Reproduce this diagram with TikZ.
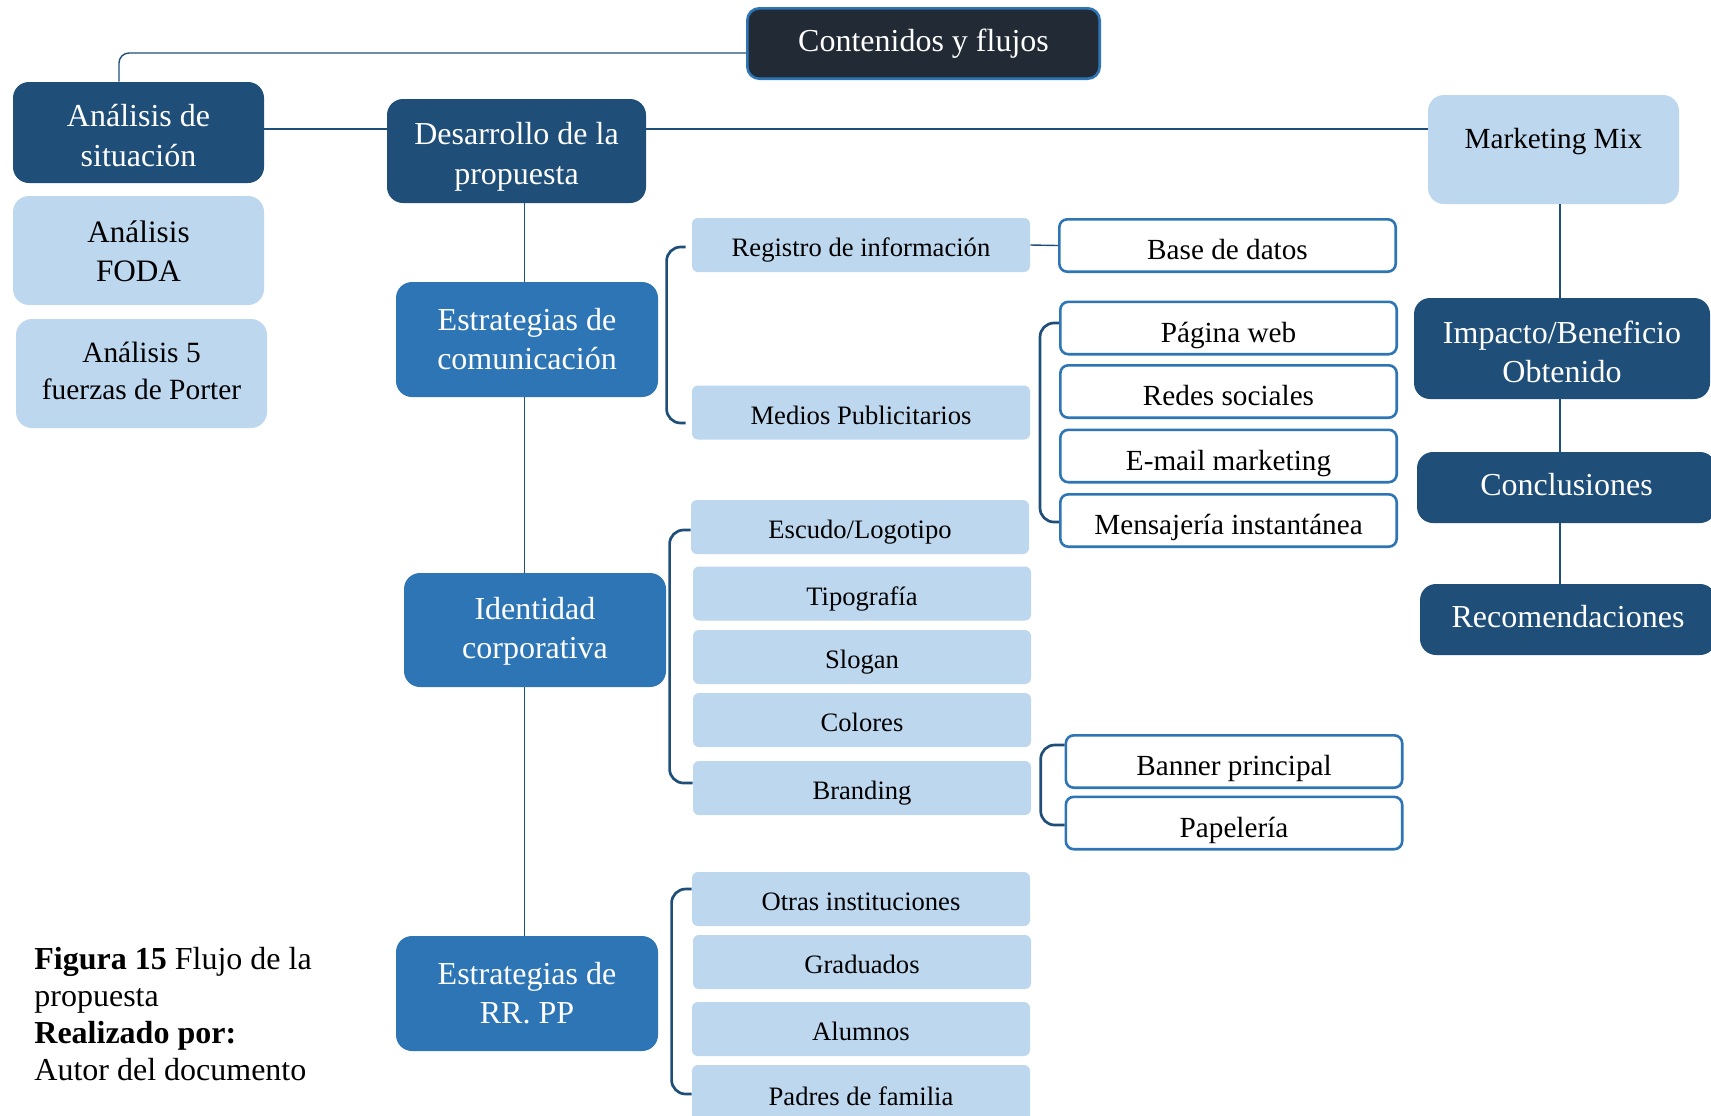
\documentclass[tikz,border=0pt]{standalone}
\usepackage{fontspec}
\setmainfont{Liberation Serif}
\definecolor{navy}{HTML}{1F4E79}
\definecolor{midblue}{HTML}{2E75B6}
\definecolor{lightblue}{HTML}{BDD7EE}
\definecolor{contfill}{HTML}{222A35}
\newcommand\vshift[2]{\raisebox{#1}[\height][\depth]{\begin{tabular}{@{}c@{}}#2\end{tabular}}}
\tikzset{
  boxbase/.style={inner sep=0pt, align=center, font=\fontsize{16pt}{20pt}\selectfont},
  navybox/.style={boxbase, fill=navy, text=white, rounded corners=8pt},
  midbox/.style={boxbase, fill=midblue, text=white, rounded corners=8pt},
  lightbox/.style={boxbase, fill=lightblue, text=black, rounded corners=8pt},
  subbox/.style={inner sep=0pt, fill=lightblue, rounded corners=3pt,
    font=\fontsize{13.3pt}{16pt}\selectfont, minimum width=169pt, minimum height=27pt,
    text height=14.2pt, text depth=2.66pt},
  wbox/.style={inner sep=0pt, draw=midblue, line width=1.3pt, fill=white, rounded corners=4pt,
    font=\fontsize{14.6pt}{17pt}\selectfont, minimum width=168.2pt, minimum height=26.2pt,
    text height=17.2pt, text depth=2.9pt},
  conn/.style={draw=navy, line width=0.7pt},
  brk/.style={draw=navy, line width=1.35pt, rounded corners=7pt},
  captext/.style={inner sep=0pt, anchor=base west, font=\fontsize{16pt}{18.5pt}\selectfont}
}
\begin{document}
\begin{tikzpicture}[x=0.5pt,y=-0.5pt]
\useasboundingbox (0,0) rectangle (1711,1115);
% main boxes
\node[boxbase, draw=midblue, line width=1.3pt, fill=contfill, text=white, rounded corners=6pt,
  minimum width=176.2pt, minimum height=35.2pt] (cont) at (923.5,43.5) {Contenidos y flujos};
\node[navybox, minimum width=125.5pt, minimum height=50.5pt] (sit) at (138.5,132.5) {\vshift{-3.2pt}{Análisis de\\situación}};
\node[lightbox, font=\fontsize{15.6pt}{19.5pt}\selectfont, minimum width=125.5pt, minimum height=54.5pt] (foda) at (138.5,250.5) {\vshift{-1.9pt}{Análisis\\FODA}};
\node[lightbox, font=\fontsize{14.7pt}{18.5pt}\selectfont, minimum width=125.5pt, minimum height=54.5pt] (porter) at (141.5,373.5) {\vshift{0.2pt}{Análisis 5\\fuerzas de Porter}};
\node[navybox, minimum width=129.5pt, minimum height=52pt] (des) at (516.5,151) {\vshift{-2.5pt}{Desarrollo de la\\propuesta}};
\node[midbox, font=\fontsize{16pt}{19.5pt}\selectfont, minimum width=131pt, minimum height=57.5pt] (com) at (527,339.5) {\vshift{-1.1pt}{Estrategias de\\comunicación}};
\node[midbox, font=\fontsize{16pt}{19.5pt}\selectfont, minimum width=131pt, minimum height=57pt] (ident) at (535,630) {\vshift{-0.8pt}{Identidad\\corporativa}};
\node[midbox, font=\fontsize{16pt}{19.5pt}\selectfont, minimum width=131pt, minimum height=57.5pt] (rrpp) at (527,993.5) {\vshift{-1.1pt}{Estrategias de\\RR. PP}};
\node[lightbox, font=\fontsize{14.6pt}{18pt}\selectfont, minimum width=125.5pt, minimum height=54.5pt,
  text height=10pt, text depth=11.4pt] (mm) at (1553.5,149.5) {Marketing Mix};
\node[navybox, font=\fontsize{16pt}{19.5pt}\selectfont, minimum width=148pt, minimum height=50.5pt] (imp) at (1562,348.5) {\vshift{-3.2pt}{Impacto/Beneficio\\Obtenido}};
\node[navybox, minimum width=149.5pt, minimum height=35.5pt] (conc) at (1566.5,487.5) {\vshift{0pt}{Conclusiones}};
\node[navybox, minimum width=148pt, minimum height=35.5pt] (rec) at (1568,619.5) {\vshift{0pt}{Recomendaciones}};
% sub items
\node[subbox] (reg) at (861,245) {Registro de información};
\node[subbox] (med) at (861,412.5) {Medios Publicitarios};
\node[subbox] (esc) at (860,527) {Escudo/Logotipo};
\node[subbox] (tip) at (862,593.5) {Tipografía};
\node[subbox] (slo) at (862,657) {Slogan};
\node[subbox] (col) at (862,720) {Colores};
\node[subbox] (bra) at (862,788) {Branding};
\node[subbox] (otr) at (861,899) {Otras instituciones};
\node[subbox] (gra) at (862,962) {Graduados};
\node[subbox] (alu) at (861,1029) {Alumnos};
\node[subbox, minimum height=29pt] (pad) at (861,1094) {Padres de familia};
% white boxes
\node[wbox] (base) at (1227.5,245.5) {Base de datos};
\node[wbox] (web) at (1228.5,328) {Página web};
\node[wbox] (red) at (1228.5,391.5) {Redes sociales};
\node[wbox] (ema) at (1228.5,456) {E-mail marketing};
\node[wbox] (men) at (1228.5,520.5) {Mensajería instantánea};
\node[wbox] (ban) at (1234,761.5) {Banner principal};
\node[wbox] (pap) at (1234,823) {Papelería};
% connectors
\coordinate (hl) at (0,129);
\coordinate (vl) at (524.5,0);
\coordinate (vr) at (1560,0);
\draw[conn, rounded corners=5pt] ([xshift=-9.75pt]sit.north) |- ([yshift=-4.75pt]cont.west);
\draw[conn] (sit.east |- hl) -- (des.west |- hl);
\draw[conn] (des.east |- hl) -- (mm.west |- hl);
\draw[conn] (des.south -| vl) -- (com.north -| vl);
\draw[conn] (com.south -| vl) -- (ident.north -| vl);
\draw[conn] (ident.south -| vl) -- (rrpp.north -| vl);
\draw[conn] (mm.south -| vr) -- (imp.north -| vr);
\draw[conn] (imp.south -| vr) -- (conc.north -| vr);
\draw[conn] (conc.south -| vr) -- (rec.north -| vr);
\draw[conn] (reg.east) -- (base.west);
% brackets
\draw[brk] ([xshift=-3pt,yshift=-1pt]reg.west) -- ++(-9.5pt,0) |- ([xshift=-3pt,yshift=-5.25pt]med.west);
\draw[brk] ([yshift=2.5pt]web.west) -- ++(-9.5pt,0) |- ([yshift=-0.75pt]men.west);
\draw[brk] ([yshift=-1.5pt]esc.west) -- ++(-10.5pt,0) |- ([yshift=2.5pt]bra.west);
\draw[brk] ([yshift=8.25pt]ban.west) -- ++(-11.9pt,0) |- ([yshift=-1pt]pap.west);
\draw[brk] ([yshift=5pt]otr.west) -- ++(-10pt,0) |- (pad.west);
% caption
\node[captext] (cap1) at (34,969) {\textbf{Figura 15} Flujo de la};
\node[captext] (cap2) at (34,1006) {propuesta};
\node[captext] (cap3) at (34,1043) {\textbf{Realizado por:}};
\node[captext] (cap4) at (34,1080) {Autor del documento};
\end{tikzpicture}
\end{document}
